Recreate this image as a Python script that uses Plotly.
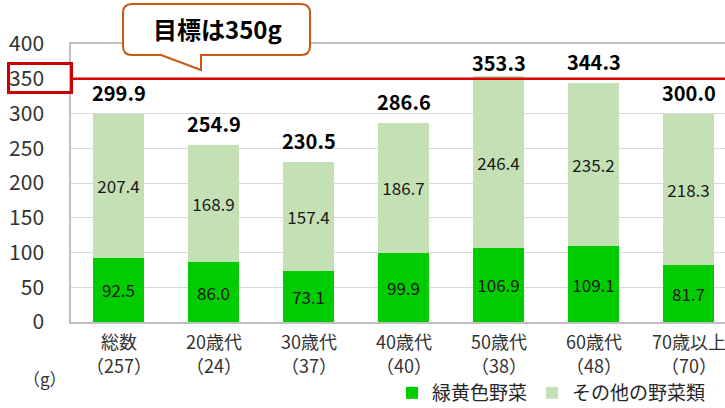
import plotly.graph_objects as go

categories = ["総数", "20歳代", "30歳代", "40歳代", "50歳代", "60歳代", "70歳以上"]
counts = [257, 24, 37, 40, 38, 48, 70]
green_yellow = [92.5, 86.0, 73.1, 99.9, 106.9, 109.1, 81.7]
other_veg = [207.4, 168.9, 157.4, 186.7, 246.4, 235.2, 218.3]
totals = [299.9, 254.9, 230.5, 286.6, 353.3, 344.3, 300.0]
y_ticks = [0, 50, 100, 150, 200, 250, 300, 350, 400]
target = 350

W, H = 725, 408
L, R, T, B = 71, 0, 44, 86
PW, PH = W - L - R, H - T - B
FONT = "Noto Sans CJK JP, Noto Sans, sans-serif"


def px(x):
    return (x - L) / PW


def py(y):
    return (H - B - y) / PH


x_idx = list(range(len(categories)))

fig = go.Figure()
fig.add_trace(go.Bar(
    x=x_idx, y=green_yellow, name="緑黄色野菜", marker=dict(color="#00CC00", line=dict(width=0)),
    text=[f"{v:.1f}" for v in green_yellow], textposition="inside", insidetextanchor="middle",
    textangle=0, textfont=dict(size=17, color="#1a1a1a", family=FONT), width=0.537,
))
fig.add_trace(go.Bar(
    x=x_idx, y=other_veg, name="その他の野菜類", marker=dict(color="#C5E0B4", line=dict(width=0)),
    text=[f"{v:.1f}" for v in other_veg], textposition="inside", insidetextanchor="middle",
    textangle=0, textfont=dict(size=17, color="#1a1a1a", family=FONT), width=0.537,
))

for i, t in enumerate(totals):
    fig.add_annotation(x=i, y=t, text=f"<b>{t:.1f}</b>", showarrow=False, yanchor="middle",
                       yshift=21 if t < target else 14,
                       font=dict(size=20, color="#000000", family=FONT))

# category labels (two lines)
for i, (c, n) in enumerate(zip(categories, counts)):
    fig.add_annotation(x=i, xref="x", yref="paper", y=py(341), text=c, showarrow=False,
                       xanchor="center", yanchor="middle",
                       font=dict(size=18, color="#333333", family=FONT))
    fig.add_annotation(x=i, xref="x", yref="paper", y=py(365), text=f"（{n}）", showarrow=False,
                       xanchor="center", yanchor="middle",
                       font=dict(size=18, color="#333333", family=FONT))

# target line
fig.add_shape(type="line", xref="paper", yref="y", x0=0, x1=1, y0=target, y1=target,
              line=dict(color="#DD0000", width=2.5), layer="above")
# red box around 350 tick label
fig.add_shape(type="rect", xref="paper", yref="paper", x0=px(8.5), x1=px(71.5), y0=py(63.5), y1=py(92.5),
              line=dict(color="#CC0000", width=3))

# callout
r = 9
x0c, x1c, y0c, y1c = 123, 310, 4, 55
path = (f"M {px(x0c + r)},{py(y0c)} L {px(x1c - r)},{py(y0c)} "
        f"Q {px(x1c)},{py(y0c)} {px(x1c)},{py(y0c + r)} "
        f"L {px(x1c)},{py(y1c - r)} Q {px(x1c)},{py(y1c)} {px(x1c - r)},{py(y1c)} "
        f"L {px(201)},{py(y1c)} L {px(201)},{py(70)} L {px(161)},{py(y1c)} "
        f"L {px(x0c + r)},{py(y1c)} Q {px(x0c)},{py(y1c)} {px(x0c)},{py(y1c - r)} "
        f"L {px(x0c)},{py(y0c + r)} Q {px(x0c)},{py(y0c)} {px(x0c + r)},{py(y0c)} Z")
fig.add_shape(type="path", xref="paper", yref="paper", path=path,
              line=dict(color="#C55A11", width=2), fillcolor="white", layer="above")
fig.add_annotation(xref="paper", yref="paper", x=px(217), y=py(29), text="<b>目標は350g</b>",
                   showarrow=False, xanchor="center", yanchor="middle",
                   font=dict(size=24, color="#000000", family=FONT))

fig.add_annotation(xref="paper", yref="paper", x=px(45), y=py(378), text="（g）", showarrow=False,
                   xanchor="center", yanchor="middle", font=dict(size=17, color="#333333", family=FONT))

fig.update_layout(
    width=W, height=H, margin=dict(l=L, r=R, t=T, b=B, autoexpand=False),
    barmode="stack",
    plot_bgcolor="white", paper_bgcolor="white",
    font=dict(family=FONT, color="#333333"),
    uniformtext=dict(minsize=17, mode="show"),
    showlegend=True,
    legend=dict(orientation="h", traceorder="normal", xref="container", yref="container",
                x=392 / W, y=(H - 393) / H, xanchor="left", yanchor="middle",
                font=dict(size=19, color="#262626", family=FONT), bgcolor="rgba(0,0,0,0)"),
    xaxis=dict(range=[-0.5, -0.5 + PW / 95], tickmode="array", tickvals=x_idx, showticklabels=False,
               showgrid=False, showline=True, linecolor="#BFBFBF", linewidth=1.5, mirror=True, ticks="",
               zeroline=False, automargin=False),
    yaxis=dict(range=[0, 400], tickmode="array", tickvals=y_ticks, showgrid=True, gridcolor="#D9D9D9",
               gridwidth=1, showline=True, linecolor="#BFBFBF", linewidth=1.5, zeroline=False,
               tickfont=dict(size=21, color="#333333", family=FONT), ticks="", ticklabelstandoff=21,
               automargin=False),
)

fig.write_html("out.html", config={"displayModeBar": False},
               post_script="document.body.style.margin='0px';document.body.style.overflow='hidden';")
